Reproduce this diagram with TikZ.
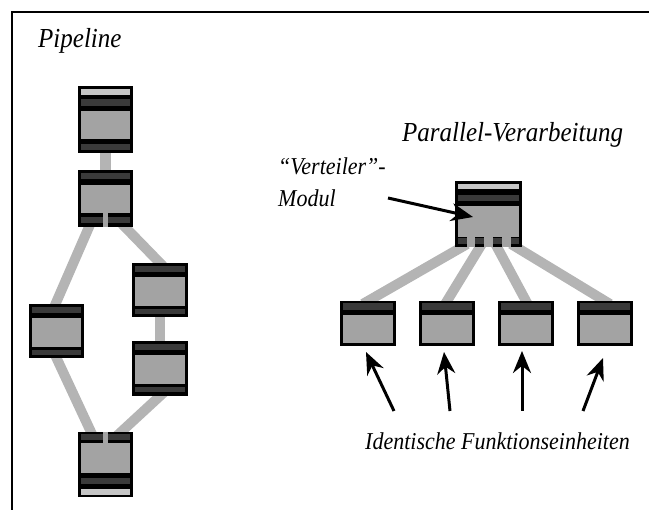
\documentclass[tikz,border=0pt]{standalone}
\usepackage{fontspec}
\setmainfont{Liberation Serif}
\usetikzlibrary{arrows.meta,calc,fit,backgrounds}
\definecolor{lightband}{HTML}{C6C6C6}
\definecolor{darkband}{HTML}{3A3A3A}
\definecolor{corefill}{HTML}{A3A3A3}
\definecolor{linkgray}{HTML}{B4B4B4}
\tikzset{
  module/.style={fill=black, inner sep=0pt, outer sep=0pt},
  link/.style={draw=linkgray, line width=10pt, shorten <=-6pt, shorten >=-6pt},
  pointer/.style={draw=black, line width=3pt, -{Stealth[length=22pt,width=18pt]}},
  bigtitle/.style={font=\fontsize{25}{30}\selectfont\itshape, inner sep=0pt, anchor=base west},
  smalltitle/.style={font=\fontsize{22}{26}\selectfont\itshape, inner sep=0pt, anchor=base west},
}
% slightly taller lettering
\newcommand\tall[1]{\scalebox{1}[1.1]{#1}}
% horizontal band inside a module, offsets measured from the module top
\newcommand\band[4]{\fill[#4] ($(#1.north west)+(3,#2)$) rectangle ($(#1.north east)+(-3,#3)$);}
% two ports split by a centre notch
\newcommand\twoports[3]{%
  \fill[darkband] ($(#1.north west)+(3,#2)$) rectangle ($(#1.north)+(-2.5,#3)$);
  \fill[darkband] ($(#1.north)+(2.5,#2)$) rectangle ($(#1.north east)+(-3,#3)$);}
\newcommand\notch[3]{\fill[corefill] ($(#1.north)+(-2.5,#2)$) rectangle ($(#1.north)+(2.5,#3)$);}
\begin{document}
\begin{tikzpicture}[x=1pt,y=-1pt]
\useasboundingbox (0,0) rectangle (649,510);
% frame
\draw[line width=2pt] (649,12.5) -- (11.5,12.5) -- (11.5,510);

% titles
\node[bigtitle] (tpipe) at (38,48) {\tall{Pipeline}};
\node[bigtitle] (tpar) at (402,142) {\tall{Parallel-Verarbeitung}};
\node[smalltitle] (tvert) at (278,175) {\tall{“Verteiler”-}};
\node[smalltitle] (tmod) at (278,207) {\tall{Modul}};
\node[smalltitle] (tunits) at (365,450) {\tall{Identische Funktionseinheiten}};

% pipeline modules
\node[module, fit={(78,86) (133,153)}] (p1) {};
\band{p1}{3}{9}{lightband}
\band{p1}{13}{20}{darkband}
\band{p1}{25}{53}{corefill}
\band{p1}{58}{64}{darkband}

\node[module, fit={(78,170) (133,227)}] (p2) {};
\band{p2}{3}{9}{darkband}
\band{p2}{15}{43}{corefill}
\twoports{p2}{47}{53}
\notch{p2}{43}{57}

\node[module, fit={(29,304) (84,358)}] (p3) {};
\node[module, fit={(132,263) (188,317)}] (p4) {};
\node[module, fit={(132,341) (188,396)}] (p5) {};
\foreach \m in {p3,p4,p5}{
  \band{\m}{3}{9}{darkband}
  \band{\m}{14}{43}{corefill}
  \band{\m}{46}{51}{darkband}
}

\node[module, fit={(78,432) (133,497)}] (p6) {};
\twoports{p6}{2}{8}
\notch{p6}{0}{11}
\band{p6}{11}{41}{corefill}
\band{p6}{46}{52}{darkband}
\band{p6}{57}{63}{lightband}

% distributor module
\node[module, fit={(455,181) (522,247)}] (v) {};
\band{v}{3}{8}{lightband}
\band{v}{14}{20}{darkband}
\band{v}{25}{56}{corefill}
\foreach \a/\b in {12/20,29/38,47/56}{
  \fill[corefill] ($(v.north west)+(\a,56)$) rectangle ($(v.north west)+(\b,66)$);
}
\foreach \a/\b in {3/12,20/29,38/47,56/64}{
  \fill[darkband] ($(v.north west)+(\a,57)$) rectangle ($(v.north west)+(\b,63)$);
}

% identical units
\node[module, fit={(340,301) (396,346)}] (u1) {};
\node[module, fit={(419,301) (475,346)}] (u2) {};
\node[module, fit={(498,301) (554,346)}] (u3) {};
\node[module, fit={(577,301) (633,346)}] (u4) {};
\foreach \m in {u1,u2,u3,u4}{
  \band{\m}{2}{9}{darkband}
  \band{\m}{14}{42}{corefill}
}

% connections
\begin{scope}[on background layer]
  \draw[link, line width=11pt] (p1.south) -- (p2.north);
  \draw[link] ($(p2.south west)+(11,0)$) -- ($(p3.north)+(-1,0)$);
  \draw[link] ($(p2.south east)+(-8,0)$) -- (p4.north);
  \draw[link] (p4.south) -- (p5.north);
  \draw[link] (p3.south) -- ($(p6.north west)+(13,0)$);
  \draw[link] (p5.south) -- ($(p6.north east)+(-12,0)$);
  \draw[link] ($(v.south west)+(7,0)$) -- (u1.north);
  \draw[link] ($(v.south west)+(25,0)$) -- (u2.north);
  \draw[link] ($(v.south west)+(42,0)$) -- (u3.north);
  \draw[link] ($(v.south west)+(61,0)$) -- (u4.north);
\end{scope}

% pointers
\coordinate (mtail) at (388,198);
\draw[pointer] (mtail) -- ($(v.west)+(18,3)$);
\coordinate (t1) at (394,411);
\coordinate (t2) at (450,411);
\coordinate (t3) at (522,411);
\coordinate (t4) at (583,411);
\draw[pointer] (t1) -- ($(u1.south)+(-2,6)$);
\draw[pointer] (t2) -- ($(u2.south)+(-3,6)$);
\draw[pointer] (t3) -- ($(u3.south)+(-4,5)$);
\draw[pointer] (t4) -- ($(u4.south)+(-2,12)$);
\end{tikzpicture}
\end{document}
